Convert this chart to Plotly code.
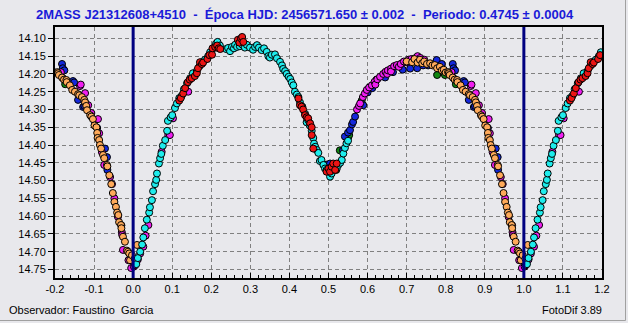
import plotly.graph_objects as go

# ---------------- data (phase in [0,1), magnitude) ----------------
cyan_phase = [0.008,0.012,0.018,0.023,0.026,0.030,0.035,0.041,0.043,0.048,0.051,0.056,0.059,0.061,0.066,0.069,0.072,0.076,0.082,0.087,0.089,0.096,0.100,0.107,0.112,0.118,0.124,0.130,0.138,0.146,0.153,0.163,0.170,0.178,0.184,0.192,0.197,0.205,0.212,0.216,0.222,0.238,0.243,0.248,0.253,0.258,0.261,0.266,0.273,0.280,0.286,0.291,0.299,0.307,0.312,0.317,0.322,0.329,0.335,0.342,0.346,0.350,0.355,0.363,0.368,0.376,0.381,0.384,0.389,0.393,0.398,0.402,0.406,0.410,0.414,0.419,0.423,0.427,0.433,0.440,0.444,0.448,0.452,0.457,0.461,0.463,0.466,0.470,0.474,0.478,0.482,0.487,0.491,0.495,0.500,0.504,0.508,0.512,0.517,0.521,0.525,0.530,0.534,0.538,0.542,0.546,0.550]
cyan_mag = [14.735,14.718,14.700,14.680,14.660,14.634,14.610,14.590,14.575,14.555,14.530,14.510,14.498,14.480,14.452,14.437,14.425,14.402,14.386,14.360,14.332,14.322,14.316,14.296,14.283,14.268,14.262,14.243,14.226,14.212,14.198,14.192,14.178,14.166,14.160,14.150,14.139,14.128,14.115,14.110,14.120,14.130,14.127,14.136,14.124,14.128,14.118,14.124,14.122,14.118,14.126,14.118,14.126,14.132,14.124,14.119,14.126,14.133,14.128,14.138,14.150,14.154,14.146,14.145,14.156,14.166,14.176,14.186,14.192,14.200,14.208,14.214,14.224,14.232,14.250,14.258,14.265,14.280,14.292,14.312,14.336,14.330,14.345,14.360,14.380,14.396,14.405,14.414,14.422,14.445,14.442,14.456,14.466,14.470,14.476,14.489,14.480,14.470,14.462,14.466,14.456,14.450,14.442,14.424,14.408,14.395,14.388]

red_phase = [0.118,0.122,0.128,0.133,0.140,0.145,0.150,0.158,0.163,0.166,0.171,0.176,0.179,0.190,0.195,0.202,0.203,0.210,0.215,0.219,0.223,0.268,0.272,0.276,0.279,0.282,0.423,0.427,0.431,0.435,0.440,0.444,0.448,0.453,0.457,0.457,0.461,0.495,0.500,0.504,0.508,0.512,0.517,0.521]
red_mag = [14.275,14.268,14.255,14.240,14.223,14.216,14.212,14.206,14.198,14.184,14.167,14.172,14.168,14.158,14.147,14.146,14.128,14.124,14.120,14.128,14.130,14.104,14.112,14.100,14.096,14.110,14.269,14.288,14.292,14.300,14.316,14.322,14.325,14.339,14.350,14.372,14.410,14.475,14.466,14.475,14.461,14.452,14.470,14.452]

blue_phase = [0.496,0.500,0.504,0.537,0.542,0.550,0.555,0.560,0.563,0.568,0.589,0.600,0.612,0.645,0.665,0.690,0.709,0.727,0.742,0.755,0.777,0.790,0.818,0.820,0.824,0.846,0.849,0.859,0.872,0.875,0.908,0.928,0.933,0.934]
blue_mag = [14.455,14.462,14.452,14.415,14.376,14.365,14.358,14.342,14.335,14.320,14.288,14.252,14.240,14.210,14.195,14.188,14.185,14.184,14.176,14.176,14.161,14.172,14.172,14.184,14.190,14.220,14.224,14.273,14.293,14.290,14.352,14.410,14.434,14.470]

magenta_phase = [0.002,0.005,0.012,0.018,0.026,0.032,0.039,0.073,0.090,0.094,0.102,0.141,0.573,0.578,0.581,0.588,0.593,0.598,0.604,0.611,0.618,0.620,0.625,0.632,0.640,0.646,0.650,0.652,0.660,0.660,0.668,0.675,0.680,0.685,0.693,0.700,0.705,0.712,0.721,0.728,0.735,0.745,0.815,0.820,0.864,0.866,0.877,0.879,0.885,0.893,0.901,0.910,0.913,0.920,0.926,0.941,0.946,0.952,0.961,0.970,0.971,0.972,0.974,0.988,0.995]
magenta_mag = [14.742,14.738,14.722,14.705,14.686,14.655,14.625,14.419,14.372,14.372,14.325,14.250,14.300,14.290,14.283,14.265,14.255,14.245,14.238,14.232,14.222,14.230,14.215,14.208,14.200,14.194,14.200,14.190,14.185,14.193,14.178,14.175,14.180,14.172,14.165,14.167,14.160,14.158,14.156,14.150,14.155,14.160,14.195,14.212,14.234,14.230,14.254,14.283,14.288,14.310,14.330,14.327,14.367,14.420,14.456,14.490,14.510,14.550,14.602,14.626,14.645,14.653,14.695,14.724,14.746]

orange_phase = [0.004,0.010,0.700,0.714,0.720,0.728,0.734,0.740,0.745,0.752,0.760,0.766,0.772,0.778,0.785,0.790,0.795,0.800,0.806,0.808,0.810,0.818,0.823,0.829,0.830,0.838,0.844,0.851,0.859,0.862,0.869,0.875,0.877,0.880,0.882,0.890,0.893,0.897,0.901,0.906,0.908,0.909,0.913,0.915,0.918,0.923,0.926,0.933,0.934,0.939,0.944,0.948,0.952,0.956,0.959,0.962,0.964,0.969,0.970,0.974,0.979,0.984,0.987,0.990,0.992,0.997]
orange_mag = [14.720,14.681,14.165,14.167,14.158,14.168,14.160,14.170,14.165,14.172,14.170,14.176,14.175,14.184,14.180,14.190,14.188,14.196,14.195,14.198,14.203,14.210,14.216,14.217,14.223,14.232,14.245,14.250,14.257,14.260,14.265,14.273,14.280,14.290,14.302,14.316,14.320,14.327,14.345,14.350,14.366,14.380,14.386,14.400,14.410,14.428,14.437,14.456,14.460,14.485,14.510,14.535,14.560,14.574,14.590,14.597,14.617,14.625,14.634,14.658,14.672,14.697,14.700,14.705,14.724,14.710]

green_phase = [0.520,0.529,0.550,0.553,0.585,0.600,0.623,0.688,0.778,0.798,0.826]
green_mag = [14.470,14.415,14.380,14.372,14.275,14.245,14.216,14.170,14.203,14.203,14.229]

x_tick_vals = [-0.2,-0.1,0.0,0.1,0.2,0.3,0.4,0.5,0.6,0.7,0.8,0.9,1.0,1.1,1.2]
x_tick_text = ["-0.2","-0.1","0.0","0.1","0.2","0.3","0.4","0.5","0.6","0.7","0.8","0.9","1.0","1.1","1.2"]
y_tick_vals = [14.10,14.15,14.20,14.25,14.30,14.35,14.40,14.45,14.50,14.55,14.60,14.65,14.70,14.75]
y_tick_text = ["14.10","14.15","14.20","14.25","14.30","14.35","14.40","14.45","14.50","14.55","14.60","14.65","14.70","14.75"]
epoch_lines = [0.0, 1.0]

title_text = "2MASS J21312608+4510  -  Época HJD: 2456571.650 ± 0.002  -  Periodo: 0.4745 ± 0.0004"
observer_text = "Observador: Faustino  Garcia"
software_text = "FotoDif 3.89"

# ---------------- figure ----------------
BG = "#E8E8EC"
series = [
    ("green", green_phase, green_mag, "#118811"),
    ("blue", blue_phase, blue_mag, "#1428DC"),
    ("magenta", magenta_phase, magenta_mag, "#F01EF0"),
    ("orange", orange_phase, orange_mag, "#FFAA5A"),
    ("cyan", cyan_phase, cyan_mag, "#1EECEC"),
    ("red", red_phase, red_mag, "#EC1414"),
]

fig = go.Figure()
for name, ph, mg, col in series:
    xs, ys = [], []
    for shift in (-1, 0, 1):
        for p, m in zip(ph, mg):
            q = p + shift
            if -0.2 <= q <= 1.2:
                xs.append(q)
                ys.append(m)
    fig.add_trace(go.Scatter(
        x=xs, y=ys, mode="markers", name=name, showlegend=False,
        marker=dict(symbol="circle", size=7, color=col,
                    line=dict(color="black", width=1)),
        hoverinfo="skip",
    ))

shapes = []
for xv in epoch_lines:
    shapes.append(dict(type="line", xref="x", yref="paper", x0=xv, x1=xv, y0=0, y1=1,
                       line=dict(color="#000080", width=3), layer="above"))
# window frame
shapes.append(dict(type="line", xref="paper", yref="paper",
                   x0=(625.5-55)/547, x1=(625.5-55)/547, y0=(278-320.5)/251, y1=(278-0)/251,
                   line=dict(color="#A0A0A0", width=1), layer="above"))
shapes.append(dict(type="line", xref="paper", yref="paper",
                   x0=(0-55)/547, x1=(625.5-55)/547, y0=(278-320.5)/251, y1=(278-320.5)/251,
                   line=dict(color="#A0A0A0", width=1), layer="above"))

fig.update_layout(
    width=628, height=323,
    margin=dict(l=55, r=26, t=27, b=45, autoexpand=False),
    paper_bgcolor=BG, plot_bgcolor=BG,
    font=dict(family="Liberation Sans, Arial, sans-serif", size=11, color="black"),
    shapes=shapes,
    annotations=[
        dict(text="<b>" + title_text + "</b>", xref="paper", yref="paper",
             x=(305-55)/547, y=(278-14)/251, xanchor="center", yanchor="middle",
             showarrow=False, font=dict(size=13, color="#1A1AD8",
                                        family="Liberation Sans, Arial, sans-serif")),
        dict(text=observer_text, xref="paper", yref="paper",
             x=(7-55)/547, y=(278-310)/251, xanchor="left", yanchor="middle",
             showarrow=False, font=dict(size=11, color="black")),
        dict(text=software_text, xref="paper", yref="paper",
             x=(604-55)/547, y=(278-310)/251, xanchor="right", yanchor="middle",
             showarrow=False, font=dict(size=11, color="black")),
    ],
)

fig.update_xaxes(
    range=[-0.2, 1.2], tickmode="array", tickvals=x_tick_vals, ticktext=x_tick_text,
    ticks="inside", ticklen=5, tickcolor="black", tickwidth=1,
    showgrid=True, gridcolor="#808080", gridwidth=1, griddash="4px,3px",
    showline=True, linecolor="black", linewidth=2, mirror=True,
    zeroline=False, automargin=False,
    minor=dict(dtick=0.02, tick0=0, ticks="inside", ticklen=3, tickcolor="black", showgrid=False),
    tickfont=dict(size=11, color="black"),
)
fig.update_yaxes(
    range=[14.774, 14.068], tickmode="array", tickvals=y_tick_vals, ticktext=y_tick_text,
    ticks="outside", ticklen=5, tickcolor="black", tickwidth=1,
    showgrid=True, gridcolor="#808080", gridwidth=1, griddash="4px,3px",
    showline=True, linecolor="black", linewidth=2, mirror=True,
    zeroline=False, automargin=False,
    tickfont=dict(size=11, color="black"),
)

fig.write_html("out.html",
               config={"displayModeBar": False, "staticPlot": True},
               post_script="document.body.style.margin='0px';document.body.style.padding='0px';")
